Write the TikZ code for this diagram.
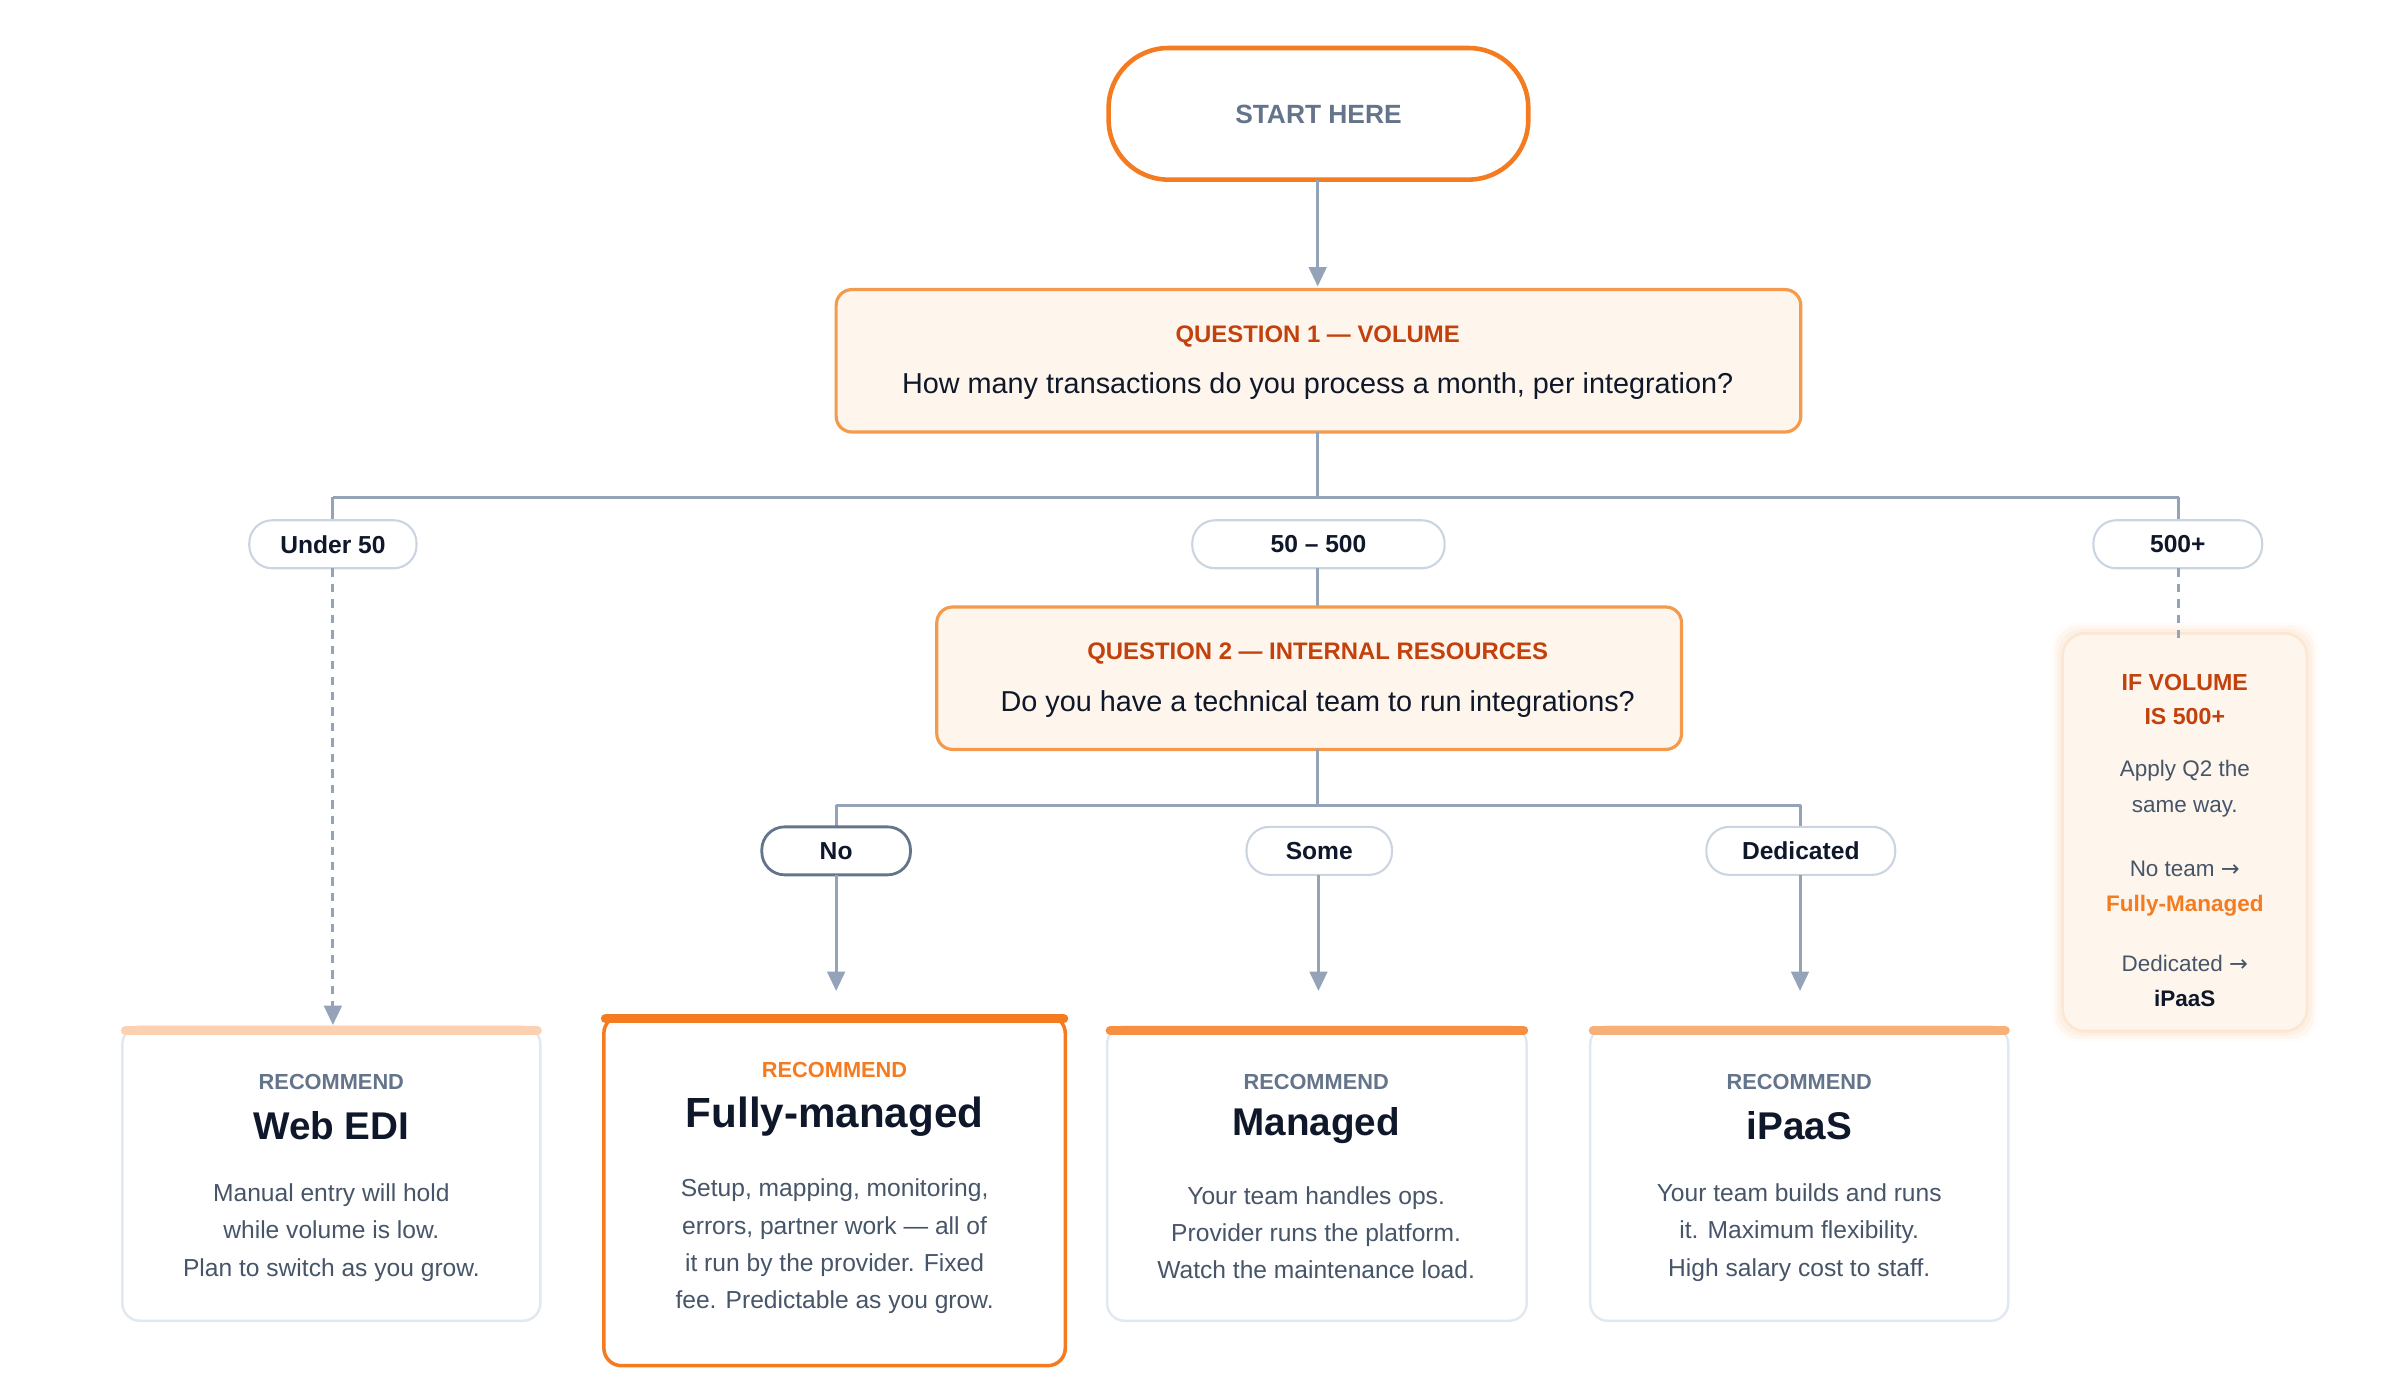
\documentclass[tikz,border=0pt]{standalone}
\usepackage{fontspec}
\setmainfont{Liberation Sans}
\newfontfamily\arrowfont{DejaVu Sans}
\newcommand{\rarr}{{\arrowfont →}}
\usetikzlibrary{arrows.meta,positioning}
\definecolor{orng}{HTML}{F47B20}
\definecolor{obord}{HTML}{F39A4D}
\definecolor{otitle}{HTML}{C2410C}
\definecolor{cream}{HTML}{FEF6EC}
\definecolor{conn}{HTML}{94A3B8}
\definecolor{pillb}{HTML}{CBD5E1}
\definecolor{cardb}{HTML}{E2E8F0}
\definecolor{dark}{HTML}{0F172A}
\definecolor{body}{HTML}{475569}
\definecolor{greyt}{HTML}{64748B}
\tikzset{
 x=0.015484cm, y=-0.015484cm,
 conn/.style={draw=conn, line width=0.85pt},
 arr/.style={conn, -{Triangle[width=5pt,length=5.5pt]}},
 dashc/.style={conn, dash pattern=on 2.4pt off 2pt},
 qbox/.style={draw=obord, fill=cream, line width=0.9pt, rounded corners=4.5pt},
 pill/.style={draw=pillb, fill=white, line width=0.6pt, rounded corners=6.5pt},
 ptxt/.style={font=\fontsize{7}{8}\selectfont\bfseries, text=dark},
 card/.style={draw=cardb, fill=white, line width=0.7pt, rounded corners=5pt},
 rec/.style={font=\fontsize{6.2}{7}\selectfont\bfseries, text=greyt},
 ttl/.style={font=\fontsize{11}{13}\selectfont\bfseries, text=dark},
 bdy/.style={font=\fontsize{7}{10.6}\selectfont, text=body, align=center},
 side/.style={font=\fontsize{6.4}{10.1}\selectfont, text=body, align=center},
}
\begin{document}
\begin{tikzpicture}
\useasboundingbox (0,0) rectangle (1550,904);
% start
\draw[draw=orng, line width=1.3pt, fill=white, rounded corners=17pt] (716,31) rectangle (987,116);
\node[font=\fontsize{7.5}{9}\selectfont\bfseries, text=greyt] (start) at (851.5,74) {START HERE};
\coordinate (sb) at (851,116);
% Q1
\draw[qbox] (540,187) rectangle (1163,279);
\coordinate (q1t) at (851,185); \coordinate (q1b) at (851,279);
\node[font=\fontsize{6.8}{8}\selectfont\bfseries, text=otitle] (q1a) at (851,217) {QUESTION 1 — VOLUME};
\node[font=\fontsize{8.2}{10}\selectfont, text=dark] (q1q) at (851,249) {How many transactions do you process a month, per integration?};
\draw[arr] (sb) -- (q1t);
% branch 1
\coordinate (h1) at (851,321);
\coordinate (hL) at (215,321); \coordinate (hR) at (1407,321);
\draw[conn] (q1b) -- (h1);
\draw[conn] (hL) -- (hR);
\draw[conn] (hL) -- (215,340);
\draw[conn] (hR) -- (1407,340);
\draw[pill] (161,336) rectangle (269,367); \node[ptxt] (p1) at (215,351.5) {Under 50};
\draw[pill] (770,336) rectangle (933,367); \node[ptxt] (p2) at (851.5,351.5) {50 – 500};
\draw[pill] (1352,336) rectangle (1461,367); \node[ptxt] (p3) at (1406.5,351.5) {500+};
% Q2
\draw[conn] (851,367) -- (851,392);
\draw[qbox] (605,392) rectangle (1086,484);
\node[font=\fontsize{6.8}{8}\selectfont\bfseries, text=otitle] (q2a) at (851,422) {QUESTION 2 — INTERNAL RESOURCES};
\node[font=\fontsize{8.2}{10}\selectfont, text=dark] (q2q) at (851,455) {Do you have a technical team to run integrations?};
\draw[conn] (851,484) -- (851,520);
\draw[conn] (540,520) -- (1163,520);
\draw[conn] (540,520) -- (540,535);
\draw[conn] (1163,520) -- (1163,535);
\draw[pill, draw=greyt, line width=0.8pt] (492,534) rectangle (588,565); \node[ptxt] (n1) at (540,549.5) {No};
\draw[pill] (805,534) rectangle (899,565); \node[ptxt] (n2) at (852,549.5) {Some};
\draw[pill] (1102,534) rectangle (1224,565); \node[ptxt] (n3) at (1163,549.5) {Dedicated};
\draw[arr] (540,565) -- (540,640);
\draw[arr] (851.5,565) -- (851.5,640);
\draw[arr] (1162.5,565) -- (1162.5,640);
% side box
\foreach \i/\o in {8/0.03,6/0.05,4/0.07,2/0.1}{
 \fill[obord, opacity=\o, rounded corners=7pt] (1333-\i,410-\i) rectangle (1489+\i,665+\i);}
\fill[cream, rounded corners=6pt] (1333,410) rectangle (1489,665);
\draw[dashc] (1407,367) -- (1407,412);
\node[font=\fontsize{6.6}{9.7}\selectfont\bfseries, text=otitle, align=center] (s1) at (1411,452) {IF VOLUME\\IS 500+};
\node[side] (s2) at (1411,509.5) {Apply Q2 the\\same way.};
\node[side] (s3) at (1411,574) {No team \rarr\\\textcolor{orng}{\bfseries Fully-Managed}};
\node[side] (s4) at (1411,633.5) {Dedicated \rarr\\\textcolor{dark}{\bfseries iPaaS}};
% cards
\draw[card] (79,663) rectangle (349,853);
\draw[line width=2.6pt, draw=orng!35, line cap=round] (81,665.5) -- (347,665.5);
\draw[dashc, -{Triangle[width=5pt,length=5.5pt]}] (215,367) -- (215,662);
\node[rec] (c1r) at (214,699) {RECOMMEND};
\node[ttl] (c1t) at (214,727) {Web EDI};
\node[bdy] (c1b) at (214,796) {Manual entry will hold\\while volume is low.\\Plan to switch as you grow.};

\draw[card, draw=orng, line width=1pt] (390,656) rectangle (688,882);
\draw[line width=2.6pt, draw=orng, line cap=round] (391,658) -- (687,658);
\node[rec, text=orng] (c2r) at (539,691) {RECOMMEND};
\node[ttl, font=\fontsize{12}{14}\selectfont\bfseries] (c2t) at (539,721) {Fully-managed};
\node[bdy] (c2b) at (539,805) {Setup, mapping, monitoring,\\errors, partner work — all of\\it run by the provider. Fixed\\fee. Predictable as you grow.};

\draw[card] (715,663) rectangle (986,853);
\draw[line width=2.6pt, draw=orng!85, line cap=round] (717,665.5) -- (984,665.5);
\node[rec] (c3r) at (850,699) {RECOMMEND};
\node[ttl] (c3t) at (850,727) {Managed};
\node[bdy] (c3b) at (850,796) {Your team handles ops.\\Provider runs the platform.\\Watch the maintenance load.};

\draw[card] (1027,663) rectangle (1297,853);
\draw[line width=2.6pt, draw=orng!60, line cap=round] (1029,665.5) -- (1295,665.5);
\node[rec] (c4r) at (1162,699) {RECOMMEND};
\node[ttl] (c4t) at (1162,727) {iPaaS};
\node[bdy] (c4b) at (1162,796) {Your team builds and runs\\it. Maximum flexibility.\\High salary cost to staff.};
\end{tikzpicture}
\end{document}
